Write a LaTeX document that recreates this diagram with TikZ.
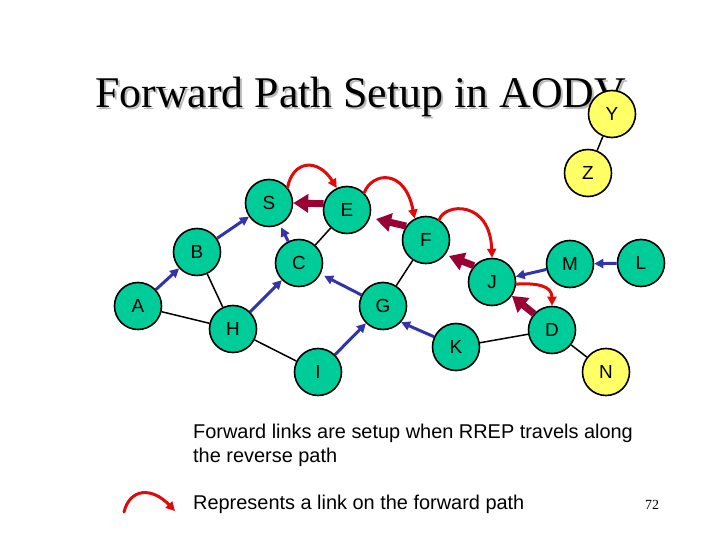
\documentclass[tikz,border=0pt]{standalone}
\usepackage{fontspec}
\setmainfont{Liberation Serif}
\newfontfamily\arialfont{Liberation Sans}
\usetikzlibrary{arrows.meta}
\definecolor{nodegreen}{RGB}{0,204,153}
\definecolor{nodeyellow}{RGB}{255,255,102}
\definecolor{revblue}{RGB}{51,51,170}
\definecolor{rrepred}{RGB}{153,0,51}
\definecolor{fwdred}{RGB}{225,10,10}
\definecolor{shadowgray}{RGB}{185,185,185}
\begin{document}
\begin{tikzpicture}[x=1bp,y=-1bp,
  nd/.style={circle,draw=black,line width=1.6bp,minimum size=47bp,inner sep=0pt,fill=nodegreen,font=\arialfont\fontsize{19}{19}\selectfont},
  ynd/.style={nd,fill=nodeyellow},
  link/.style={draw=black,line width=1.5bp},
  rev/.style={draw=revblue,line width=3bp,-{Triangle[length=9bp,width=9bp]}},
  rrep/.style={draw=rrepred,line width=7bp,-{Triangle[length=15bp,width=18bp]}},
  fwd/.style={draw=fwdred,line width=3bp,line cap=round,-{Triangle[length=9bp,width=9bp]}},
  bodytext/.style={anchor=base west,inner sep=0pt,font=\arialfont\fontsize{20}{24}\selectfont}]
\useasboundingbox[fill=white] (0,0) rectangle (720,540);

% title with shadow
\node[anchor=base west,inner sep=0pt,font=\fontsize{44}{44}\selectfont,text=shadowgray] (titleshadow) at (97,110) {Forward Path Setup in AODV};
\node[anchor=base west,inner sep=0pt,font=\fontsize{44}{44}\selectfont] (title) at (95,108) {Forward Path Setup in AODV};

% nodes
\node[nd] (S) at (269,203) {S};
\node[nd] (E) at (347,210) {E};
\node[nd] (F) at (426,240) {F};
\node[nd] (B) at (197,252) {B};
\node[nd] (C) at (299,263) {C};
\node[nd] (J) at (492,282) {J};
\node[nd] (M) at (570,264) {M};
\node[nd] (L) at (641,263) {L};
\node[nd] (A) at (138,306) {A};
\node[nd] (G) at (383,306) {G};
\node[nd] (H) at (233,329) {H};
\node[nd] (D) at (552,330) {D};
\node[nd] (K) at (456,347) {K};
\node[nd] (I) at (318,372) {I};
\node[ynd] (N) at (606,372) {N};
\node[ynd] (Y) at (612,114) {Y};
\node[ynd] (Z) at (588,173) {Z};

% plain links
\draw[link] (E) -- (C);
\draw[link] (F) -- (G);
\draw[link] (A) -- (H);
\draw[link] (B) -- (H);
\draw[link] (H) -- (I);
\draw[link] (K) -- (D);
\draw[link] (D) -- (N);
\draw[link] (Y) -- (Z);

% reverse path (blue)
\draw[rev] (A) -- (B);
\draw[rev] (B) -- (S);
\draw[rev, shorten >=3bp] (C) -- (S);
\draw[rev] (H) -- (C);
\draw[rev, shorten >=4bp] (G) -- (C);
\draw[rev] (I) -- (G);
\draw[rev] (K.155) -- (G.-42);
\draw[rev] (M) -- (J);
\draw[rev] (L) -- (M);

% RREP arrows (dark red)
\coordinate (fetip) at (376,219);
\coordinate (jftip) at (449,256);
\draw[rrep] (E.165) -- (S.0);
\draw[rrep] (F.145) -- (fetip);
\draw[rrep] (J.138) -- (jftip);
\draw[rrep] (D.138) -- (J.-35);

% forward links (red arcs)
\draw[fwd] (S.40) .. controls (293,160) and (318,158) .. (E.115);
\draw[fwd] (E.45) .. controls (372,172) and (405,168) .. (F.118);
\draw[fwd] (F.57) .. controls (445,203) and (490,200) .. (J.90);
\draw[fwd] (J.355) .. controls (535,283) and (552,285) .. (D.90);

% text
\node[bodytext] (txt1) at (193,438) {Forward links are setup when RREP travels along};
\node[bodytext] (txt2) at (193,462) {the reverse path};
\node[bodytext] (txt3) at (193,509) {Represents a link on the forward path};
\node[anchor=base west,inner sep=0pt,font=\fontsize{14}{14}\selectfont] (pg) at (645,509) {72};

% legend arc
\coordinate (lg1) at (124,512);
\coordinate (lg2) at (175,511);
\draw[fwd] (lg1) .. controls (130,488) and (152,487) .. (lg2);
\end{tikzpicture}
\end{document}
